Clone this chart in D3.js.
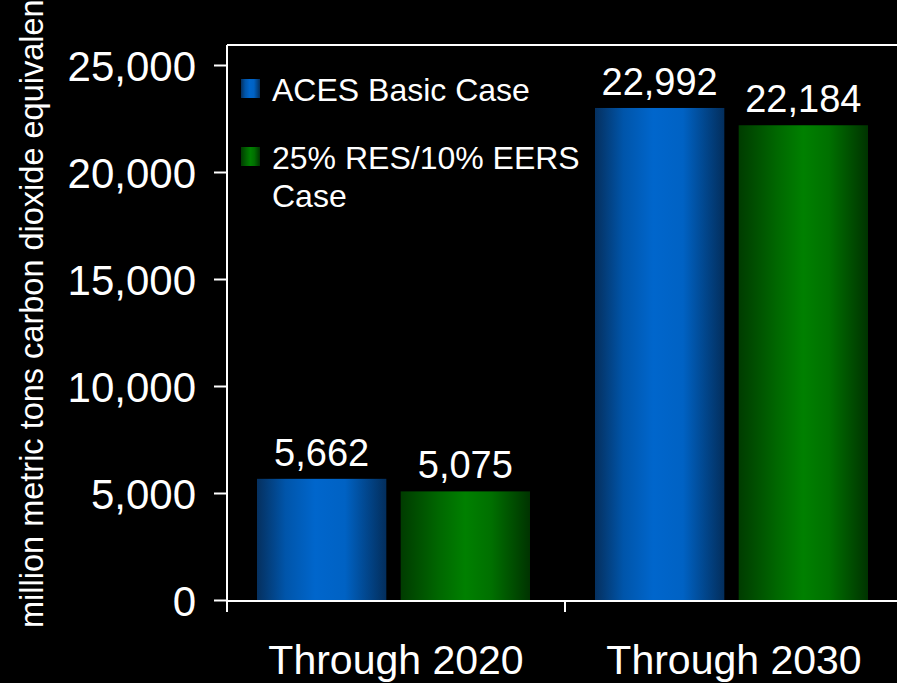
<!DOCTYPE html>
<html>
<head>
<meta charset="utf-8">
<script src="https://cdn.jsdelivr.net/npm/d3@7"></script>
<style>
  html, body { margin: 0; padding: 0; background: #000; }
  svg { display: block; font-family: "Liberation Sans", Arial, sans-serif; }
</style>
</head>
<body>
<svg id="chart" width="897" height="683"></svg>
<script>
const categories = ['Through 2020', 'Through 2030'];
const seriesNames = ['ACES Basic Case', '25% RES/10% EERS Case'];
const acesValues = [5662, 22992];
const resValues = [5075, 22184];
const yTicks = [0, 5000, 10000, 15000, 20000, 25000];

const svg = d3.select('#chart');

const plotLeft = 227, plotRight = 903, plotTop = 45, plotBottom = 600;

const defs = svg.append('defs');
const makeGrad = (id, stops) => {
    const g = defs.append('linearGradient').attr('id', id)
        .attr('x1', '0%').attr('x2', '100%').attr('y1', '0%').attr('y2', '0%');
    stops.forEach(s => g.append('stop').attr('offset', s[0]).attr('stop-color', s[1]));
};
makeGrad('gBlue', [['0%', '#05305f'], ['22%', '#0055aa'], ['45%', '#0066cc'], ['68%', '#0062c4'], ['100%', '#032e5c']]);
makeGrad('gGreen', [['0%', '#003c00'], ['30%', '#006800'], ['50%', '#008000'], ['70%', '#007000'], ['100%', '#003300']]);
const fills = ['url(#gBlue)', 'url(#gGreen)'];

const x0 = d3.scaleBand().domain(categories).range([plotLeft, plotRight]).padding(0);
const x1 = d3.scaleBand().domain(seriesNames).range([30, 303]).paddingInner(0.1).paddingOuter(0);
const y = d3.scaleLinear().domain([0, 25000]).range([plotBottom, 65]);

const rows = categories.map((c, i) => ({ cat: c, vals: [acesValues[i], resValues[i]] }));

// bars
const groups = svg.selectAll('g.cat')
    .data(rows)
    .enter()
    .append('g')
    .attr('class', 'cat')
    .attr('transform', d => `translate(${x0(d.cat)},0)`);

groups.selectAll('rect')
    .data(d => d.vals.map((v, j) => ({ name: seriesNames[j], value: v, j })))
    .enter()
    .append('rect')
    .attr('x', d => x1(d.name))
    .attr('y', d => y(d.value))
    .attr('width', x1.bandwidth())
    .attr('height', d => plotBottom - y(d.value))
    .attr('fill', d => fills[d.j]);

groups.selectAll('text.value')
    .data(d => d.vals.map((v, j) => ({ name: seriesNames[j], value: v })))
    .enter()
    .append('text')
    .attr('class', 'value')
    .attr('x', d => x1(d.name) + x1.bandwidth() / 2)
    .attr('y', d => y(d.value) - 13)
    .attr('text-anchor', 'middle')
    .attr('fill', '#fff')
    .style('font-size', '38px')
    .text(d => d3.format(',')(d.value));

// frame
svg.append('line')
    .attr('x1', plotLeft).attr('x2', 897).attr('y1', plotTop).attr('y2', plotTop)
    .attr('stroke', '#fff').attr('stroke-width', 2);

// y axis
const yAxis = svg.append('g')
    .attr('transform', `translate(${plotLeft},0)`)
    .call(d3.axisLeft(y).tickValues(yTicks).tickSize(13).tickPadding(18).tickFormat(d3.format(',')));
yAxis.select('.domain').attr('d', `M0,${plotTop}V${plotBottom + 1}`).attr('stroke', '#fff').attr('stroke-width', 2);
yAxis.selectAll('.tick line').attr('stroke', '#fff').attr('stroke-width', 2);
yAxis.selectAll('.tick text').attr('fill', '#fff').style('font-size', '42px')
    .style('font-family', '"Liberation Sans", Arial, sans-serif').attr('dy', '0.36em');

// x axis
const xAxis = svg.append('g')
    .attr('transform', `translate(0,${plotBottom + 1})`);
xAxis.append('line')
    .attr('x1', plotLeft).attr('x2', 897).attr('y1', 0).attr('y2', 0)
    .attr('stroke', '#fff').attr('stroke-width', 2);
xAxis.selectAll('line.tk')
    .data(categories)
    .enter()
    .append('line')
    .attr('class', 'tk')
    .attr('x1', d => x0(d)).attr('x2', d => x0(d))
    .attr('y1', 0).attr('y2', 11)
    .attr('stroke', '#fff').attr('stroke-width', 2);
xAxis.selectAll('text')
    .data(categories)
    .enter()
    .append('text')
    .attr('x', d => x0(d) + 169)
    .attr('y', 73)
    .attr('text-anchor', 'middle')
    .attr('fill', '#fff')
    .style('font-size', '41px')
    .text(d => d);

// y title (runs off the top edge, as in the original)
svg.append('text')
    .attr('transform', 'translate(43,628) rotate(-90)')
    .attr('fill', '#fff')
    .style('font-size', '32.5px')
    .text('million metric tons carbon dioxide equivalent');

// legend
const legend = svg.append('g').attr('transform', 'translate(241,79)');
legend.selectAll('rect')
    .data(seriesNames)
    .enter()
    .append('rect')
    .attr('x', 0)
    .attr('y', (d, i) => i * 68)
    .attr('width', 19)
    .attr('height', 19)
    .attr('fill', (d, i) => fills[i]);
const legendLines = [['ACES Basic Case'], ['25% RES/10% EERS', 'Case']];
legend.selectAll('text')
    .data(legendLines)
    .enter()
    .append('text')
    .attr('fill', '#fff')
    .style('font-size', '32px')
    .each(function (lines, i) {
        d3.select(this).selectAll('tspan')
            .data(lines)
            .enter()
            .append('tspan')
            .attr('x', 31)
            .attr('y', (l, k) => i * 68 + 22 + k * 38)
            .text(l => l);
    });
</script>
</body>
</html>
